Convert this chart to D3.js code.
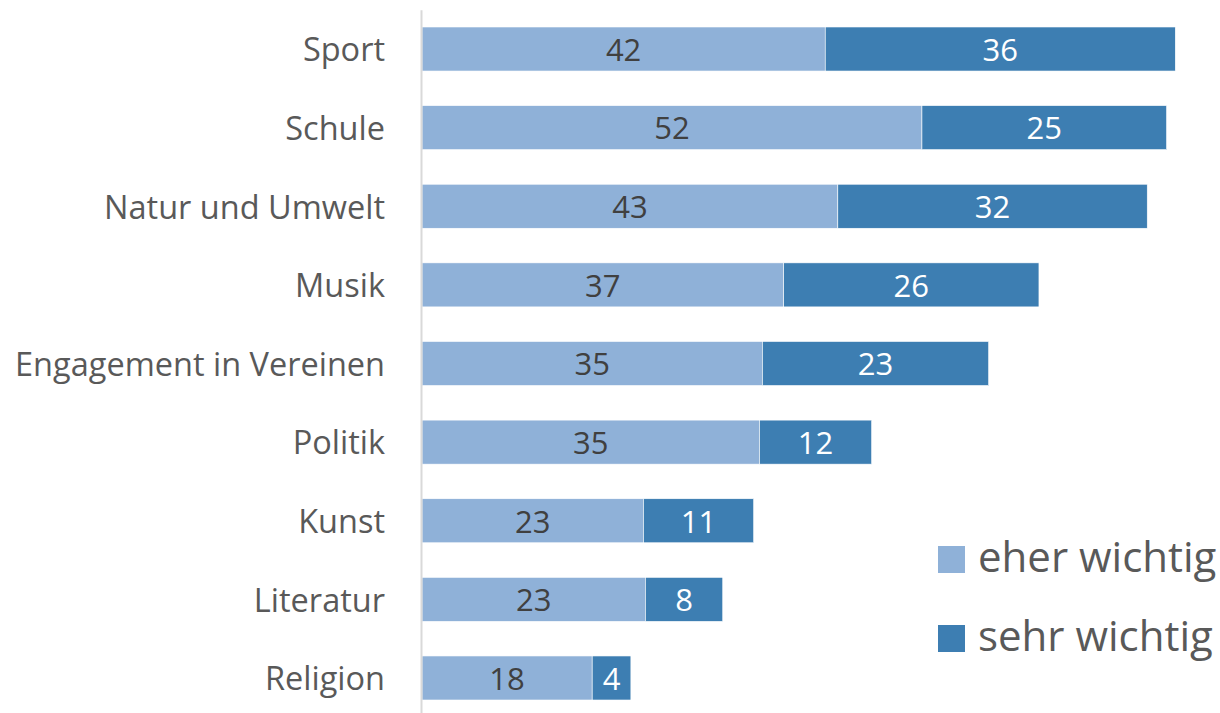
<!DOCTYPE html>
<html>
<head>
<meta charset="utf-8">
<script src="https://cdn.jsdelivr.net/npm/d3@7"></script>
<style>
  body { margin: 0; background: #fff; }
  svg { display: block; font-family: "Open Sans", sans-serif; font-variant-ligatures: none; }
</style>
</head>
<body>
<div id="chart"></div>
<script>
// categories, top to bottom
var categories = ["Sport", "Schule", "Natur und Umwelt", "Musik", "Engagement in Vereinen",
                  "Politik", "Kunst", "Literatur", "Religion"];
// percentages (labels show rounded values)
var eherWichtig = [41.7, 51.7, 43.0, 37.4, 35.2, 34.9, 22.9, 23.1, 17.6];
var sehrWichtig = [36.2, 25.3, 32.0, 26.4, 23.4, 11.6, 11.4, 8.0, 4.0];
var seriesNames = ["eher wichtig", "sehr wichtig"];
var seriesColors = ["#8fb1d8", "#3d7eb2"];
var labelColors = ["#404040", "#ffffff"];

var width = 1220, height = 713;
var margin = {left: 421};

var svg = d3.select("#chart").append("svg")
  .attr("width", width)
  .attr("height", height);

var rows = categories.map(function(c, i) {
  return {cat: c, eher: eherWichtig[i], sehr: sehrWichtig[i]};
});
var stacked = d3.stack().keys(["eher", "sehr"])(rows);

var x = d3.scaleLinear()
  .domain([0, 80])
  .range([margin.left + 1, margin.left + 1 + 80 * 9.67]);

var y = d3.scaleBand()
  .domain(categories)
  .range([9.7, 717.3])
  .paddingInner(0.44)
  .paddingOuter(0.22);

// bars
var layers = svg.selectAll(".layer")
  .data(stacked).enter().append("g")
    .attr("class", "layer")
    .attr("fill", function(d, i) { return seriesColors[i]; });

layers.selectAll("rect")
  .data(function(d) { return d; }).enter().append("rect")
    .attr("x", function(d) { return x(d[0]); })
    .attr("y", function(d) { return y(d.data.cat); })
    .attr("width", function(d) { return x(d[1]) - x(d[0]); })
    .attr("height", y.bandwidth())
    .attr("stroke", "#ffffff")
    .attr("stroke-width", 0.6);

// value labels
layers.each(function(series, si) {
  d3.select(this).selectAll("text")
    .data(series).enter().append("text")
      .attr("x", function(d) { return (x(d[0]) + x(d[1])) / 2; })
      .attr("y", function(d) { return y(d.data.cat) + y.bandwidth() / 2; })
      .attr("dy", "0.38em")
      .attr("text-anchor", "middle")
      .attr("font-size", 31)
      .attr("fill", labelColors[si])
      .text(function(d) { return d3.format(".0f")(d[1] - d[0]); });
});

// category axis
var axis = svg.append("g")
  .attr("transform", "translate(" + margin.left + ",0)")
  .call(d3.axisLeft(y).tickSize(0).tickSizeOuter(0).tickPadding(36));

axis.select(".domain")
  .attr("stroke", "#d9d9d9")
  .attr("stroke-width", 2);

axis.selectAll("text")
  .attr("font-family", "'Open Sans', sans-serif")
  .attr("font-size", 32.5)
  .attr("dy", "0.38em")
  .attr("fill", "#595959");

// legend
var legend = svg.selectAll(".legend")
  .data(seriesNames).enter().append("g")
    .attr("class", "legend")
    .attr("transform", function(d, i) { return "translate(938," + (546 + i * 79) + ")"; });

legend.append("rect")
  .attr("width", 27)
  .attr("height", 27)
  .attr("fill", function(d, i) { return seriesColors[i]; });

legend.append("text")
  .attr("x", 40)
  .attr("y", 26)
  .attr("font-size", 42)
  .attr("fill", "#595959")
  .text(function(d) { return d; });
</script>
</body>
</html>
